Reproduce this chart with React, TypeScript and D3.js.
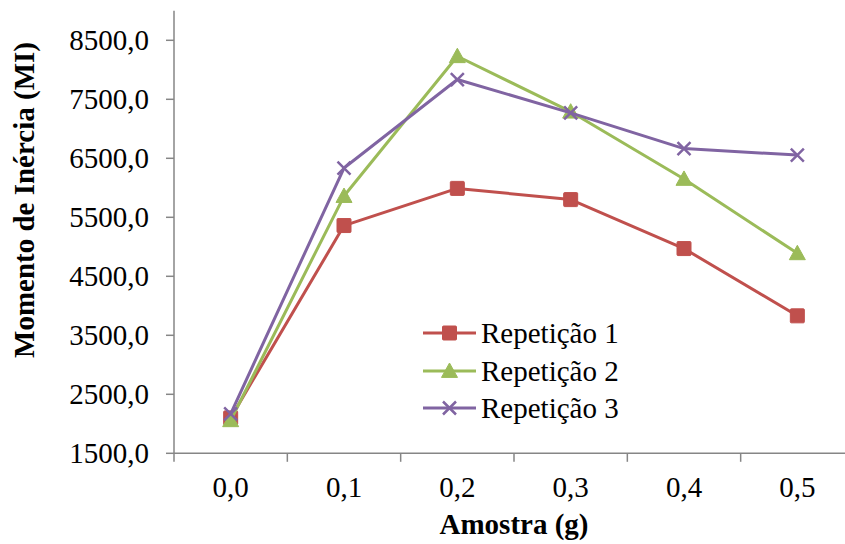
import React from "react";
import * as d3 from "d3";

const categories = ["0,0", "0,1", "0,2", "0,3", "0,4", "0,5"];
const rep1 = [2100, 5360, 5990, 5800, 4970, 3830];
const rep2 = [2060, 5860, 8230, 7290, 6150, 4890];
const rep3 = [2170, 6335, 7835, 7270, 6665, 6555];
const seriesNames = ["Repetição 1", "Repetição 2", "Repetição 3"];
const yTicks = [1500, 2500, 3500, 4500, 5500, 6500, 7500, 8500];

const colors = ["#C0504D", "#9BBB59", "#8064A2"];
const W = 845;
const H = 544;
const FONT = "Liberation Serif";

function Marker({ kind, x, y, color }: { kind: number; x: number; y: number; color: string }) {
  if (kind === 0) {
    return <rect x={x - 7} y={y - 7} width={14} height={14} fill={color} stroke={color} strokeWidth={1} rx={1} />;
  }
  if (kind === 1) {
    const s = 8;
    return (
      <path
        d={`M${x},${y - s} L${x + s},${y + s * 0.8} L${x - s},${y + s * 0.8} Z`}
        fill={color}
        stroke={color}
        strokeWidth={1}
      />
    );
  }
  const s = 6.5;
  return (
    <path
      d={`M${x - s},${y - s} L${x + s},${y + s} M${x - s},${y + s} L${x + s},${y - s}`}
      stroke={color}
      strokeWidth={2.5}
      fill="none"
    />
  );
}

export default function App() {
  const x = d3.scaleBand<string>().domain(categories).range([174, 854]).paddingInner(0).paddingOuter(0);
  const y = d3.scaleLinear().domain([1500, 9000]).range([453.3, 10.8]);
  const cx = (c: string) => (x(c) as number) + x.bandwidth() / 2;
  const all = [rep1, rep2, rep3];
  const line = d3
    .line<number>()
    .x((_, i) => cx(categories[i]))
    .y((d) => y(d));
  const axisColor = "#868686";
  const legendX = 423;
  const legendRows = [333, 371, 408];
  const ts: React.CSSProperties = { fontFamily: FONT };

  return (
    <div style={{ position: "absolute", left: 0, top: 0 }}>
      <svg width={W} height={H} style={{ display: "block", background: "#fff" }}>
        {/* y axis */}
        <line x1={174} x2={174} y1={y(9000)} y2={y(1500)} stroke={axisColor} strokeWidth={1.5} />
        {yTicks.map((t) => (
          <g key={t}>
            <line x1={166} x2={174} y1={y(t)} y2={y(t)} stroke={axisColor} strokeWidth={1.5} />
            <text x={149} y={y(t)} dy="0.34em" textAnchor="end" fontSize={29} fill="#000" style={ts}>
              {d3.format(".1f")(t).replace(".", ",")}
            </text>
          </g>
        ))}
        {/* x axis */}
        <line x1={174} x2={854} y1={y(1500)} y2={y(1500)} stroke={axisColor} strokeWidth={1.5} />
        {categories.map((c) => (
          <g key={c}>
            <line
              x1={x(c) as number}
              x2={x(c) as number}
              y1={y(1500)}
              y2={y(1500) + 8.5}
              stroke={axisColor}
              strokeWidth={1.5}
            />
            <text x={cx(c)} y={497} textAnchor="middle" fontSize={29} fill="#000" style={ts}>
              {c}
            </text>
          </g>
        ))}
        {/* titles */}
        <text x={514} y={534} textAnchor="middle" fontSize={29} fontWeight="bold" fill="#000" style={ts}>
          Amostra (g)
        </text>
        <text
          transform={`translate(34,200) rotate(-90)`}
          textAnchor="middle"
          fontSize={29}
          fontWeight="bold"
          fill="#000"
          style={ts}
        >
          Momento de Inércia (MI)
        </text>
        {/* series */}
        {all.map((s, k) => (
          <g key={k}>
            <path d={line(s) as string} fill="none" stroke={colors[k]} strokeWidth={3} strokeLinejoin="round" />
            {s.map((v, i) => (
              <Marker key={i} kind={k} x={cx(categories[i])} y={y(v)} color={colors[k]} />
            ))}
          </g>
        ))}
        {/* legend */}
        {seriesNames.map((n, k) => (
          <g key={n}>
            <line
              x1={legendX}
              x2={legendX + 53}
              y1={legendRows[k]}
              y2={legendRows[k]}
              stroke={colors[k]}
              strokeWidth={3}
            />
            <Marker kind={k} x={legendX + 26.5} y={legendRows[k]} color={colors[k]} />
            <text x={481} y={legendRows[k]} dy="0.34em" fontSize={29} fill="#000" style={ts}>
              {n}
            </text>
          </g>
        ))}
      </svg>
    </div>
  );
}
